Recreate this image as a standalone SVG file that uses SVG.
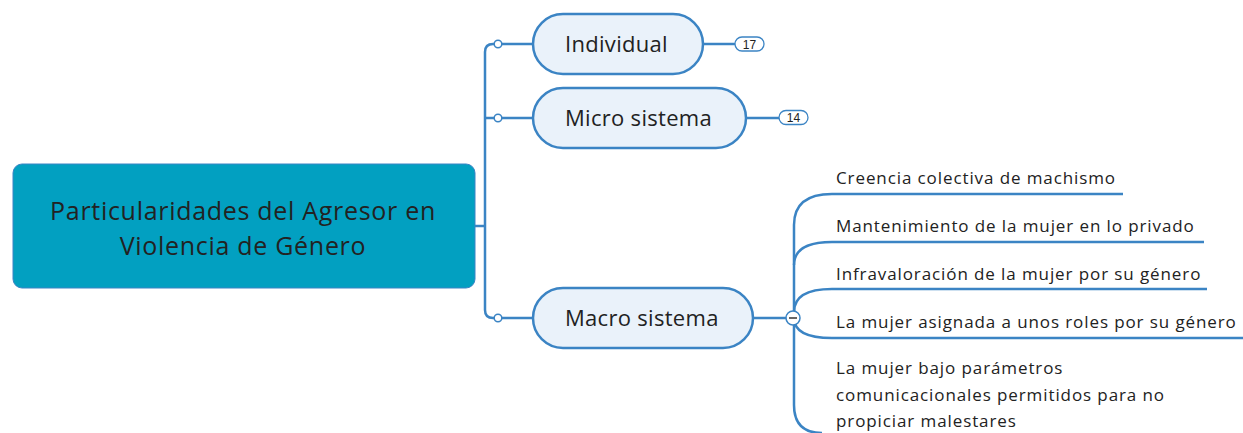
<svg xmlns="http://www.w3.org/2000/svg" width="1243" height="433" viewBox="0 0 1243 433">
<style>
.ln{fill:none;stroke:#3B84C4;stroke-width:2.5;}
.sub{fill:#EAF2FA;stroke:#3B84C4;stroke-width:2.5;}
.dot{fill:#fff;stroke:#3B84C4;stroke-width:1.5;}
.t{font-family:"Open Sans","Noto Sans","DejaVu Sans",sans-serif;fill:#222;}
.big{font-size:25px;letter-spacing:0.7px;text-anchor:middle;}
.mid{font-size:22px;letter-spacing:0.3px;}
.sm{font-size:17px;letter-spacing:0.9px;}
.bd{font-family:"Liberation Sans",Arial,sans-serif;font-size:12px;fill:#222;text-anchor:middle;}
</style>
<rect width="1243" height="433" fill="#fff"/>
<g id="connectors">
<path class="ln" d="M475 226 H485"/>
<path class="ln" d="M533 44 H493 Q485 44 485 52 V310 Q485 318 493 318 H533"/>
<path class="ln" d="M485 118 H533"/>
<path class="ln" d="M703 44 H735"/>
<path class="ln" d="M746 118 H780"/>
<path class="ln" d="M753 318 H787"/>
<path class="ln" d="M832 194 H1123"/>
<path class="ln" d="M832 242 H1204"/>
<path class="ln" d="M832 289 H1207"/>
<path class="ln" d="M832 338 H1243"/>
<path class="ln" d="M832 194 Q794 194 794 225 V405 Q794 433 822 433"/>
<path class="ln" d="M832 242 Q794 242 794 265"/>
<path class="ln" d="M832 289 Q794 289 794 312"/>
<path class="ln" d="M832 338 Q794 338 794 318"/>
<circle class="dot" cx="498" cy="44" r="3.8"/>
<circle class="dot" cx="498" cy="118" r="3.8"/>
<circle class="dot" cx="498" cy="318" r="3.8"/>
</g>
<g id="root">
<rect x="13" y="164" width="462" height="124" rx="9" fill="#02A0C1" stroke="#3B84C4" stroke-width="1"/>
<text class="t big" x="243" y="220">Particularidades del Agresor en</text>
<text class="t big" x="243" y="255">Violencia de Género</text>
</g>
<g id="individual">
<rect class="sub" x="533" y="14" width="170" height="60" rx="30"/>
<text class="t mid" x="565" y="52">Individual</text>
<rect x="735" y="37" width="29" height="14" rx="7" fill="#fff" stroke="#3B84C4" stroke-width="1.3"/>
<text class="bd" x="749.5" y="48.5">17</text>
</g>
<g id="micro">
<rect class="sub" x="533" y="88" width="213" height="60" rx="30"/>
<text class="t mid" x="565" y="126">Micro sistema</text>
<rect x="779" y="110.5" width="29" height="14" rx="7" fill="#fff" stroke="#3B84C4" stroke-width="1.3"/>
<text class="bd" x="793.5" y="122">14</text>
</g>
<g id="macro">
<rect class="sub" x="533" y="288" width="220" height="60" rx="30"/>
<text class="t mid" x="565" y="326">Macro sistema</text>
<circle cx="793" cy="318" r="7" fill="#fff" stroke="#3B84C4" stroke-width="1.5"/>
<path d="M789 318 H797" stroke="#333" stroke-width="1.5"/>
</g>
<g id="c1"><text class="t sm" x="836" y="184">Creencia colectiva de machismo</text></g>
<g id="c2"><text class="t sm" x="836" y="232">Mantenimiento de la mujer en lo privado</text></g>
<g id="c3"><text class="t sm" x="836" y="280">Infravaloración de la mujer por su género</text></g>
<g id="c4"><text class="t sm" x="836" y="328">La mujer asignada a unos roles por su género</text></g>
<g id="c5"><text class="t sm" x="836" y="374">La mujer bajo parámetros</text><text class="t sm" x="836" y="401">comunicacionales permitidos para no</text><text class="t sm" x="836" y="427">propiciar malestares</text></g>
</svg>
